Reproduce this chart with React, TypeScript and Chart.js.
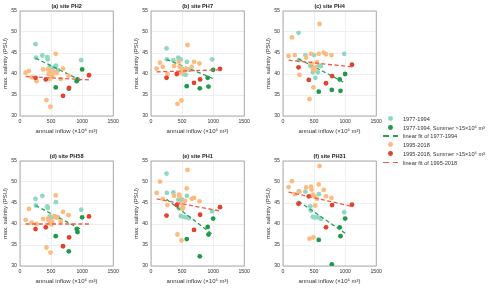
import React, { useEffect, useRef } from 'react';
import { Chart, registerables } from 'chart.js';

Chart.register(...registerables);

// ---------- data ----------
const panelTitles = ['(a) site PH2', '(b) site PH7', '(c) site PH4', '(d) site PH58', '(e) site PH1', '(f) site PH31'];
const xTicks = [0, 500, 1000, 1500];
const yTicks = [30, 35, 40, 45, 50, 55];
const xTitle = 'annual inflow (×10⁶ m³)';
const yTitle = 'max. salinity (PSU)';

// 1977-1994 (non-summer-flood years)
const inflowEarly = [250, 255, 360, 440, 447, 478, 500, 520, 560, 578, 610, 985];
const salinityEarly = [
  [47.1, 43.9, 44.4, 44.0, 43.5, 41.7, 40.8, 41.3, 41.7, 42.0, 40.9, 43.3],
  [46.1, 43.5, 43.3, 43.9, 43.2, 43.5, 41.2, 40.0, 39.8, 42.9, 41.0, 43.5],
  [49.8, 43.3, 44.5, 42.0, 41.9, 40.4, 44.5, 39.1, 40.4, 42.0, 41.9, 44.8],
  [46.0, 44.4, 46.7, 44.2, 43.8, 41.8, 41.6, 41.6, 41.8, 45.2, 41.6, 43.4],
  [52.0, 47.4, 47.5, 45.8, 43.7, 41.9, 45.8, 41.7, 41.6, 46.7, 41.4, 43.0],
  [45.0, 47.8, 47.7, 44.2, 43.2, 41.7, 41.6, 41.6, 41.6, 47.1, 41.2, 42.8],
];

// 1977-1994, Summer > 15e6 m3
const inflowEarlySummer = [575, 785, 912, 925, 1000];
const salinityEarlySummer = [
  [36.8, 36.5, 38.3, 38.7, 41.1],
  [37.1, 36.6, 39.1, 37.0, 41.0],
  [35.8, 36.2, 38.7, 36.0, 40.0],
  [37.1, 33.5, 38.8, 38.1, 41.6],
  [36.4, 32.3, 39.3, 37.5, 41.3],
  [36.2, 30.4, 39.2, 37.1, 41.3],
];

// 1995-2018
const inflowLate = [90, 144, 190, 265, 372, 426, 452, 460, 480, 490, 505, 518, 548, 575, 588, 655, 692, 780];
const salinityLate = [
  [40.3, 40.7, 39.2, 38.3, 41.1, 33.8, 41.1, 40.0, 38.8, 32.2, 40.7, 39.6, 40.5, 44.8, 40.2, 38.8, 41.3, 39.6],
  [41.3, 42.7, 41.7, 40.0, 41.9, 32.9, 42.9, 41.7, 40.3, 33.7, 41.0, 40.5, 40.9, 41.2, 46.9, 41.7, 42.9, 42.5],
  [44.3, 48.7, 44.5, 39.8, 43.9, 34.0, 44.8, 42.5, 41.3, 36.8, 40.9, 41.6, 42.8, 44.8, 51.9, 45.1, 44.7, 44.5],
  [41.0, 43.6, 40.3, 40.0, 41.2, 34.4, 41.3, 40.9, 40.2, 33.2, 39.9, 40.5, 41.8, 46.8, 41.5, 40.6, 42.9, 42.1],
  [47.4, 50.1, 46.0, 44.5, 46.7, 37.5, 47.0, 46.5, 44.9, 36.1, 43.6, 44.0, 45.5, 48.5, 52.9, 46.0, 46.2, 45.4],
  [48.8, 50.2, 47.1, 47.7, 48.7, 36.5, 48.9, 48.2, 47.0, 36.8, 46.6, 44.4, 46.0, 49.4, 53.8, 48.1, 46.6, 46.2],
];

// 1995-2018, Summer > 15e6 m3
const inflowLateSummer = [250, 415, 692, 790, 1110];
const salinityLateSummer = [
  [39.1, 38.7, 34.8, 36.7, 39.7],
  [39.1, 40.0, 37.9, 38.7, 41.2],
  [41.6, 38.6, 37.8, 39.5, 42.2],
  [38.8, 39.2, 34.7, 36.8, 41.8],
  [42.0, 44.5, 38.6, 42.2, 44.0],
  [44.8, 46.6, 39.2, 44.5, 44.6],
];

// linear fits: fitted salinity at the smallest and largest inflow of each period
const fitEarly = [
  [43.8, 38.3],
  [43.5, 38.9],
  [43.6, 37.9],
  [44.4, 38.6],
  [45.9, 37.4],
  [45.4, 37.8],
];
const fitLate = [
  [39.4, 38.6],
  [40.5, 41.0],
  [43.3, 41.7],
  [40.0, 40.0],
  [46.0, 43.1],
  [47.6, 44.2],
];

const legendLabels = [
  '1977-1994',
  '1977-1994, Summer >15×10⁶ m³',
  'linear fit of 1977-1994',
  '1995-2018',
  '1995-2018, Summer >15×10⁶ m³',
  'linear fit of 1995-2018',
];

// ---------- styles ----------
const FONT = "'Liberation Sans', Arial, Helvetica, sans-serif";
const TEAL = '#8fd8c4';
const GREEN = '#1f9a4a';
const GREEN_LINE = '#2a9d55';
const ORANGE = '#fdbb80';
const RED = '#e4402c';
const RED_LINE = '#ee5a48';
const TEXT = '#333333';

const CW = 121; // canvas width
const CH = 136; // canvas height
const panelPos = [
  { left: 0, top: 0 },
  { left: 131, top: 0 },
  { left: 263, top: 0 },
  { left: 0, top: 150 },
  { left: 131, top: 150 },
  { left: 263, top: 150 },
];

const earlyAll = [...inflowEarly, ...inflowEarlySummer];
const lateAll = [...inflowLate, ...inflowLateSummer];
const earlyMin = Math.min(...earlyAll);
const earlyMax = Math.max(...earlyAll);
const lateMin = Math.min(...lateAll);
const lateMax = Math.max(...lateAll);

const decorPlugin = {
  id: 'decor',
  beforeDatasetsDraw(chart: any) {
    const { ctx, chartArea } = chart;
    ctx.save();
    ctx.strokeStyle = '#9a9a9a';
    ctx.lineWidth = 0.8;
    ctx.strokeRect(chartArea.left, chartArea.top, chartArea.right - chartArea.left, chartArea.bottom - chartArea.top);
    ctx.restore();
  },
  afterDraw(chart: any) {
    const { ctx, chartArea } = chart;
    const title = chart.options.plugins.decor?.title || '';
    ctx.save();
    ctx.fillStyle = '#222';
    ctx.font = `bold 5.6px ${FONT}`;
    ctx.textAlign = 'center';
    ctx.textBaseline = 'middle';
    ctx.fillText(title, (chartArea.left + chartArea.right) / 2, chartArea.top - 5);
    ctx.restore();
  },
};

function makeConfig(k: number): any {
  const pts = (xs: number[], ys: number[]) => xs.map((x, i) => ({ x, y: ys[i] }));
  const dot = (data: any[], color: string, order: number) => ({
    data,
    backgroundColor: color,
    borderColor: color,
    borderWidth: 0,
    pointRadius: 2.4,
    pointHoverRadius: 2.4,
    order,
  });
  const fit = (data: any[], color: string, order: number) => ({
    data,
    showLine: true,
    borderColor: color,
    borderWidth: 1.3,
    borderDash: [4, 2.6],
    pointRadius: 0,
    pointHoverRadius: 0,
    order,
  });
  return {
    type: 'scatter',
    data: {
      datasets: [
        dot(pts(inflowEarly, salinityEarly[k]), TEAL, 6),
        dot(pts(inflowEarlySummer, salinityEarlySummer[k]), GREEN, 5),
        fit([{ x: earlyMin, y: fitEarly[k][0] }, { x: earlyMax, y: fitEarly[k][1] }], GREEN_LINE, 4),
        dot(pts(inflowLate, salinityLate[k]), ORANGE, 3),
        dot(pts(inflowLateSummer, salinityLateSummer[k]), RED, 2),
        fit([{ x: lateMin, y: fitLate[k][0] }, { x: lateMax, y: fitLate[k][1] }], RED_LINE, 1),
      ],
    },
    options: {
      responsive: false,
      animation: false,
      devicePixelRatio: 1,
      events: [],
      layout: { padding: { top: 11, right: 7, left: 0, bottom: 0 } },
      plugins: {
        legend: { display: false },
        tooltip: { enabled: false },
        decor: { title: panelTitles[k] },
      },
      scales: {
        x: {
          type: 'linear',
          min: xTicks[0],
          max: xTicks[xTicks.length - 1],
          afterBuildTicks: (s: any) => {
            s.ticks = xTicks.map((v) => ({ value: v }));
          },
          afterFit: (s: any) => {
            s.height = 20;
          },
          ticks: {
            font: { family: FONT, size: 5.2 },
            color: TEXT,
            padding: 2,
            maxRotation: 0,
            autoSkip: false,
            callback: (v: any) => String(v),
          },
          grid: { color: '#ebebeb', lineWidth: 0.8, drawTicks: false },
          border: { display: false },
          title: {
            display: true,
            text: xTitle,
            color: TEXT,
            font: { family: FONT, size: 6 },
            padding: { top: 0, bottom: 1 },
          },
        },
        y: {
          type: 'linear',
          min: yTicks[0],
          max: yTicks[yTicks.length - 1],
          afterBuildTicks: (s: any) => {
            s.ticks = yTicks.map((v) => ({ value: v }));
          },
          afterFit: (s: any) => {
            s.width = 20;
          },
          ticks: {
            font: { family: FONT, size: 5.2 },
            color: TEXT,
            padding: 3,
            autoSkip: false,
            callback: (v: any) => String(v),
          },
          grid: { color: '#ebebeb', lineWidth: 0.8, drawTicks: false },
          border: { display: false },
          title: {
            display: true,
            text: yTitle,
            color: TEXT,
            font: { family: FONT, size: 6 },
            padding: { top: 2, bottom: 0 },
          },
        },
      },
    },
    plugins: [decorPlugin],
  };
}

function Panel({ k }: { k: number }) {
  const ref = useRef<HTMLCanvasElement>(null);
  useEffect(() => {
    if (!ref.current) return;
    const chart = new Chart(ref.current, makeConfig(k));
    return () => chart.destroy();
  }, [k]);
  const pos = panelPos[k];
  return (
    <canvas
      ref={ref}
      width={CW}
      height={CH}
      style={{ position: 'absolute', left: pos.left, top: pos.top, width: CW, height: CH }}
    />
  );
}

const legendKinds = ['dot', 'dot', 'line', 'dot', 'dot', 'line'];
const legendColors = [TEAL, GREEN, GREEN_LINE, ORANGE, RED, RED_LINE];
const legendRowY = [118.5, 127.5, 136, 144.5, 153.8, 162.5];

function Legend() {
  return (
    <div style={{ position: 'absolute', left: 0, top: 0 }}>
      {legendLabels.map((label, i) => (
        <div key={i}>
          {legendKinds[i] === 'dot' ? (
            <div
              style={{
                position: 'absolute',
                left: 388,
                top: legendRowY[i] - 2.4,
                width: 4.8,
                height: 4.8,
                borderRadius: '50%',
                background: legendColors[i],
              }}
            />
          ) : (
            <>
              <div style={{ position: 'absolute', left: 383, top: legendRowY[i] - 0.65, width: 6, height: 1.3, background: legendColors[i] }} />
              <div style={{ position: 'absolute', left: 393, top: legendRowY[i] - 0.65, width: 4.5, height: 1.3, background: legendColors[i] }} />
            </>
          )}
          <div
            style={{
              position: 'absolute',
              left: 403,
              top: legendRowY[i] - 4,
              height: 8,
              lineHeight: '8px',
              fontFamily: FONT,
              fontSize: 5.6,
              color: TEXT,
              whiteSpace: 'nowrap',
            }}
          >
            {label}
          </div>
        </div>
      ))}
    </div>
  );
}

export default function App() {
  return (
    <div
      style={{
        position: 'fixed',
        left: 0,
        top: 0,
        width: 500,
        height: 289,
        background: '#ffffff',
        overflow: 'hidden',
      }}
    >
      {panelTitles.map((_, k) => (
        <Panel key={k} k={k} />
      ))}
      <Legend />
    </div>
  );
}
